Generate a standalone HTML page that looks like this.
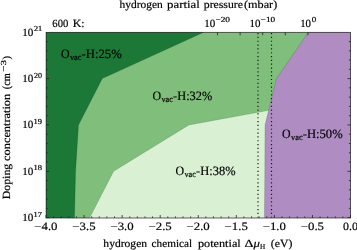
<!DOCTYPE html>
<html><head><meta charset="utf-8"><style>
html,body{margin:0;padding:0;background:#fff;}
svg{display:block;will-change:transform;}
</style></head><body>
<svg width="357" height="250" viewBox="0 0 357 250">
<rect width="357" height="250" fill="#fff"/>
<rect x="46.0" y="32.3" width="304.5" height="185.7" fill="#7fbf7b"/>
<polygon points="46.00,32.30 203.80,32.30 102.30,78.62 78.50,124.95 75.60,171.27 74.50,217.60 74.50,218.00 46.00,218.00" fill="#1b7837"/>
<polygon points="89.60,218.00 89.80,217.60 113.60,171.27 188.90,124.95 269.00,110.30 350.50,95.00 350.50,218.00" fill="#d9f0d3"/>
<polygon points="308.30,32.30 276.50,78.62 265.00,124.95 264.80,171.27 264.40,217.60 264.40,218.00 350.50,218.00 350.50,32.30" fill="#af8dc3"/>
<polyline points="203.80,32.30 102.30,78.62 78.50,124.95 75.60,171.27 74.50,217.60" stroke="#000" stroke-opacity="0.22" stroke-width="0.6" fill="none"/>
<polyline points="89.80,217.60 113.60,171.27 188.90,124.95 269.00,110.30" stroke="#000" stroke-opacity="0.22" stroke-width="0.6" fill="none"/>
<polyline points="308.30,32.30 276.50,78.62 265.00,124.95 264.80,171.27 264.40,217.60" stroke="#000" stroke-opacity="0.22" stroke-width="0.6" fill="none"/>
<g stroke="#1a1a1a" stroke-width="1.2" stroke-dasharray="1.2 2.626">
<line x1="258.0" y1="33.0" x2="258.0" y2="217.6"/>
<line x1="271.5" y1="33.0" x2="271.5" y2="217.6"/>
</g>
<g stroke="#222" stroke-width="0.8"><line x1="46.00" y1="218.0" x2="46.00" y2="215.00"/><line x1="53.61" y1="218.0" x2="53.61" y2="216.40"/><line x1="61.23" y1="218.0" x2="61.23" y2="216.40"/><line x1="68.84" y1="218.0" x2="68.84" y2="216.40"/><line x1="76.45" y1="218.0" x2="76.45" y2="216.40"/><line x1="84.06" y1="218.0" x2="84.06" y2="215.00"/><line x1="91.68" y1="218.0" x2="91.68" y2="216.40"/><line x1="99.29" y1="218.0" x2="99.29" y2="216.40"/><line x1="106.90" y1="218.0" x2="106.90" y2="216.40"/><line x1="114.51" y1="218.0" x2="114.51" y2="216.40"/><line x1="122.12" y1="218.0" x2="122.12" y2="215.00"/><line x1="129.74" y1="218.0" x2="129.74" y2="216.40"/><line x1="137.35" y1="218.0" x2="137.35" y2="216.40"/><line x1="144.96" y1="218.0" x2="144.96" y2="216.40"/><line x1="152.58" y1="218.0" x2="152.58" y2="216.40"/><line x1="160.19" y1="218.0" x2="160.19" y2="215.00"/><line x1="167.80" y1="218.0" x2="167.80" y2="216.40"/><line x1="175.41" y1="218.0" x2="175.41" y2="216.40"/><line x1="183.02" y1="218.0" x2="183.02" y2="216.40"/><line x1="190.64" y1="218.0" x2="190.64" y2="216.40"/><line x1="198.25" y1="218.0" x2="198.25" y2="215.00"/><line x1="205.86" y1="218.0" x2="205.86" y2="216.40"/><line x1="213.48" y1="218.0" x2="213.48" y2="216.40"/><line x1="221.09" y1="218.0" x2="221.09" y2="216.40"/><line x1="228.70" y1="218.0" x2="228.70" y2="216.40"/><line x1="236.31" y1="218.0" x2="236.31" y2="215.00"/><line x1="243.93" y1="218.0" x2="243.93" y2="216.40"/><line x1="251.54" y1="218.0" x2="251.54" y2="216.40"/><line x1="259.15" y1="218.0" x2="259.15" y2="216.40"/><line x1="266.76" y1="218.0" x2="266.76" y2="216.40"/><line x1="274.38" y1="218.0" x2="274.38" y2="215.00"/><line x1="281.99" y1="218.0" x2="281.99" y2="216.40"/><line x1="289.60" y1="218.0" x2="289.60" y2="216.40"/><line x1="297.21" y1="218.0" x2="297.21" y2="216.40"/><line x1="304.83" y1="218.0" x2="304.83" y2="216.40"/><line x1="312.44" y1="218.0" x2="312.44" y2="215.00"/><line x1="320.05" y1="218.0" x2="320.05" y2="216.40"/><line x1="327.66" y1="218.0" x2="327.66" y2="216.40"/><line x1="335.28" y1="218.0" x2="335.28" y2="216.40"/><line x1="342.89" y1="218.0" x2="342.89" y2="216.40"/><line x1="350.50" y1="218.0" x2="350.50" y2="215.00"/><line x1="46.1" y1="217.60" x2="49.10" y2="217.60"/><line x1="350.5" y1="217.60" x2="347.50" y2="217.60"/><line x1="46.1" y1="208.34" x2="47.70" y2="208.34"/><line x1="350.5" y1="208.34" x2="348.90" y2="208.34"/><line x1="46.1" y1="199.07" x2="47.70" y2="199.07"/><line x1="350.5" y1="199.07" x2="348.90" y2="199.07"/><line x1="46.1" y1="189.80" x2="47.70" y2="189.80"/><line x1="350.5" y1="189.80" x2="348.90" y2="189.80"/><line x1="46.1" y1="180.54" x2="47.70" y2="180.54"/><line x1="350.5" y1="180.54" x2="348.90" y2="180.54"/><line x1="46.1" y1="171.27" x2="49.10" y2="171.27"/><line x1="350.5" y1="171.27" x2="347.50" y2="171.27"/><line x1="46.1" y1="162.01" x2="47.70" y2="162.01"/><line x1="350.5" y1="162.01" x2="348.90" y2="162.01"/><line x1="46.1" y1="152.75" x2="47.70" y2="152.75"/><line x1="350.5" y1="152.75" x2="348.90" y2="152.75"/><line x1="46.1" y1="143.48" x2="47.70" y2="143.48"/><line x1="350.5" y1="143.48" x2="348.90" y2="143.48"/><line x1="46.1" y1="134.21" x2="47.70" y2="134.21"/><line x1="350.5" y1="134.21" x2="348.90" y2="134.21"/><line x1="46.1" y1="124.95" x2="49.10" y2="124.95"/><line x1="350.5" y1="124.95" x2="347.50" y2="124.95"/><line x1="46.1" y1="115.69" x2="47.70" y2="115.69"/><line x1="350.5" y1="115.69" x2="348.90" y2="115.69"/><line x1="46.1" y1="106.42" x2="47.70" y2="106.42"/><line x1="350.5" y1="106.42" x2="348.90" y2="106.42"/><line x1="46.1" y1="97.15" x2="47.70" y2="97.15"/><line x1="350.5" y1="97.15" x2="348.90" y2="97.15"/><line x1="46.1" y1="87.89" x2="47.70" y2="87.89"/><line x1="350.5" y1="87.89" x2="348.90" y2="87.89"/><line x1="46.1" y1="78.62" x2="49.10" y2="78.62"/><line x1="350.5" y1="78.62" x2="347.50" y2="78.62"/><line x1="46.1" y1="69.36" x2="47.70" y2="69.36"/><line x1="350.5" y1="69.36" x2="348.90" y2="69.36"/><line x1="46.1" y1="60.10" x2="47.70" y2="60.10"/><line x1="350.5" y1="60.10" x2="348.90" y2="60.10"/><line x1="46.1" y1="50.83" x2="47.70" y2="50.83"/><line x1="350.5" y1="50.83" x2="348.90" y2="50.83"/><line x1="46.1" y1="41.56" x2="47.70" y2="41.56"/><line x1="350.5" y1="41.56" x2="348.90" y2="41.56"/><line x1="217.50" y1="32.3" x2="217.50" y2="35.30"/><line x1="240.10" y1="32.3" x2="240.10" y2="35.30"/><line x1="262.70" y1="32.3" x2="262.70" y2="35.30"/><line x1="285.30" y1="32.3" x2="285.30" y2="35.30"/><line x1="307.90" y1="32.3" x2="307.90" y2="35.30"/></g>
<rect x="46.1" y="32.3" width="304.4" height="185.7" fill="none" stroke="#222" stroke-width="0.7"/>
<g font-family="'Liberation Serif', serif" font-size="11" fill="#000" stroke="#000" stroke-width="0.18" text-rendering="geometricPrecision">
<text x="34.31" y="230.10" font-size="11.3" textLength="23.23" lengthAdjust="spacingAndGlyphs">−4.0</text>
<text x="72.37" y="230.10" font-size="11.3" textLength="23.24" lengthAdjust="spacingAndGlyphs">−3.5</text>
<text x="110.44" y="230.10" font-size="11.3" textLength="23.23" lengthAdjust="spacingAndGlyphs">−3.0</text>
<text x="148.50" y="230.10" font-size="11.3" textLength="23.24" lengthAdjust="spacingAndGlyphs">−2.5</text>
<text x="186.56" y="230.10" font-size="11.3" textLength="23.23" lengthAdjust="spacingAndGlyphs">−2.0</text>
<text x="224.62" y="230.10" font-size="11.3" textLength="23.24" lengthAdjust="spacingAndGlyphs">−1.5</text>
<text x="262.69" y="230.10" font-size="11.3" textLength="23.23" lengthAdjust="spacingAndGlyphs">−1.0</text>
<text x="300.75" y="230.10" font-size="11.3" textLength="23.24" lengthAdjust="spacingAndGlyphs">−0.5</text>
<text x="343.05" y="230.10" font-size="11.3" textLength="14.91" lengthAdjust="spacingAndGlyphs">0.0</text>
<text x="22.32" y="220.90" font-size="11" textLength="11.10" lengthAdjust="spacingAndGlyphs">10</text>
<text x="33.56" y="216.50" font-size="7.7" textLength="8.38" lengthAdjust="spacingAndGlyphs">17</text>
<text x="22.32" y="174.57" font-size="11" textLength="11.10" lengthAdjust="spacingAndGlyphs">10</text>
<text x="33.56" y="170.17" font-size="7.7" textLength="8.47" lengthAdjust="spacingAndGlyphs">18</text>
<text x="22.32" y="128.25" font-size="11" textLength="11.10" lengthAdjust="spacingAndGlyphs">10</text>
<text x="33.55" y="123.85" font-size="7.7" textLength="8.50" lengthAdjust="spacingAndGlyphs">19</text>
<text x="22.32" y="81.92" font-size="11" textLength="11.10" lengthAdjust="spacingAndGlyphs">10</text>
<text x="33.95" y="77.52" font-size="7.7" textLength="8.06" lengthAdjust="spacingAndGlyphs">20</text>
<text x="22.32" y="35.60" font-size="11" textLength="11.10" lengthAdjust="spacingAndGlyphs">10</text>
<text x="33.94" y="31.20" font-size="7.7" textLength="8.26" lengthAdjust="spacingAndGlyphs">21</text>
<text x="119.49" y="8.10" font-size="11" textLength="43.29" lengthAdjust="spacingAndGlyphs">hydrogen</text>
<text x="167.09" y="8.10" font-size="11" textLength="32.66" lengthAdjust="spacingAndGlyphs">partial</text>
<text x="203.81" y="8.10" font-size="11" textLength="39.10" lengthAdjust="spacingAndGlyphs">pressure</text>
<text x="243.96" y="8.10" font-size="11" textLength="33.27" lengthAdjust="spacingAndGlyphs">(mbar)</text>
<text x="52.34" y="26.60" font-size="11" textLength="15.96" lengthAdjust="spacingAndGlyphs">600</text>
<text x="72.66" y="26.60" font-size="11" textLength="11.91" lengthAdjust="spacingAndGlyphs">K:</text>
<text x="204.33" y="26.50" font-size="11" textLength="10.98" lengthAdjust="spacingAndGlyphs">10</text>
<text x="215.43" y="22.00" font-size="7.7" textLength="14.62" lengthAdjust="spacingAndGlyphs">−20</text>
<text x="249.53" y="26.50" font-size="11" textLength="10.98" lengthAdjust="spacingAndGlyphs">10</text>
<text x="260.63" y="22.00" font-size="7.7" textLength="14.62" lengthAdjust="spacingAndGlyphs">−10</text>
<text x="300.14" y="26.50" font-size="11" textLength="10.87" lengthAdjust="spacingAndGlyphs">10</text>
<text x="311.66" y="22.20" font-size="7.7" textLength="4.48" lengthAdjust="spacingAndGlyphs">0</text>
<text x="103.39" y="247.20" font-size="11" textLength="43.69" lengthAdjust="spacingAndGlyphs">hydrogen</text>
<text x="151.57" y="247.20" font-size="11" textLength="40.55" lengthAdjust="spacingAndGlyphs">chemical</text>
<text x="197.90" y="247.20" font-size="11" textLength="42.84" lengthAdjust="spacingAndGlyphs">potential</text>
<text x="244.47" y="247.20" font-size="11" textLength="8.95" lengthAdjust="spacingAndGlyphs">Δ</text>
<text x="270.89" y="247.20" font-size="11" textLength="21.43" lengthAdjust="spacingAndGlyphs">(eV)</text>
<text x="253.61" y="247.20" font-size="11" font-style="italic" textLength="6.41" lengthAdjust="spacingAndGlyphs">μ</text>
<text x="259.99" y="249.00" font-size="7.7" textLength="5.22" lengthAdjust="spacingAndGlyphs">H</text>
<g transform="translate(10.2,199.3) rotate(-90)">
<text x="-0.04" y="0.00" font-size="11" textLength="35.57" lengthAdjust="spacingAndGlyphs">Doping</text>
<text x="38.43" y="0.00" font-size="11" textLength="67.06" lengthAdjust="spacingAndGlyphs">concentration</text>
<text x="110.05" y="0.00" font-size="11" textLength="15.91" lengthAdjust="spacingAndGlyphs">(cm</text>
<text x="139.77" y="0.00" font-size="11" textLength="3.37" lengthAdjust="spacingAndGlyphs">)</text>
<text x="127.55" y="-4.30" font-size="7.7" textLength="11.78" lengthAdjust="spacingAndGlyphs">−3</text>
</g>
<g transform="translate(61.3,58.0)" font-size="12.8"><text x="-0.3" y="0" textLength="8.6" lengthAdjust="spacingAndGlyphs">O</text><text x="8.6" y="2.4" font-size="8.8" textLength="11.6" lengthAdjust="spacingAndGlyphs">vac</text><text x="20.3" y="0" textLength="40.2" lengthAdjust="spacingAndGlyphs">-H:25%</text></g>
<g transform="translate(152.8,100.0)" font-size="12.8"><text x="-0.3" y="0" textLength="8.6" lengthAdjust="spacingAndGlyphs">O</text><text x="8.6" y="2.4" font-size="8.8" textLength="11.6" lengthAdjust="spacingAndGlyphs">vac</text><text x="20.3" y="0" textLength="39.1" lengthAdjust="spacingAndGlyphs">-H:32%</text></g>
<g transform="translate(175.8,175.0)" font-size="12.8"><text x="-0.3" y="0" textLength="8.6" lengthAdjust="spacingAndGlyphs">O</text><text x="8.6" y="2.4" font-size="8.8" textLength="11.6" lengthAdjust="spacingAndGlyphs">vac</text><text x="20.3" y="0" textLength="39.5" lengthAdjust="spacingAndGlyphs">-H:38%</text></g>
<g transform="translate(282.4,137.9)" font-size="12.8"><text x="-0.3" y="0" textLength="8.6" lengthAdjust="spacingAndGlyphs">O</text><text x="8.6" y="2.4" font-size="8.8" textLength="11.6" lengthAdjust="spacingAndGlyphs">vac</text><text x="20.3" y="0" textLength="40.0" lengthAdjust="spacingAndGlyphs">-H:50%</text></g>
</g>
</svg>
</body></html>
